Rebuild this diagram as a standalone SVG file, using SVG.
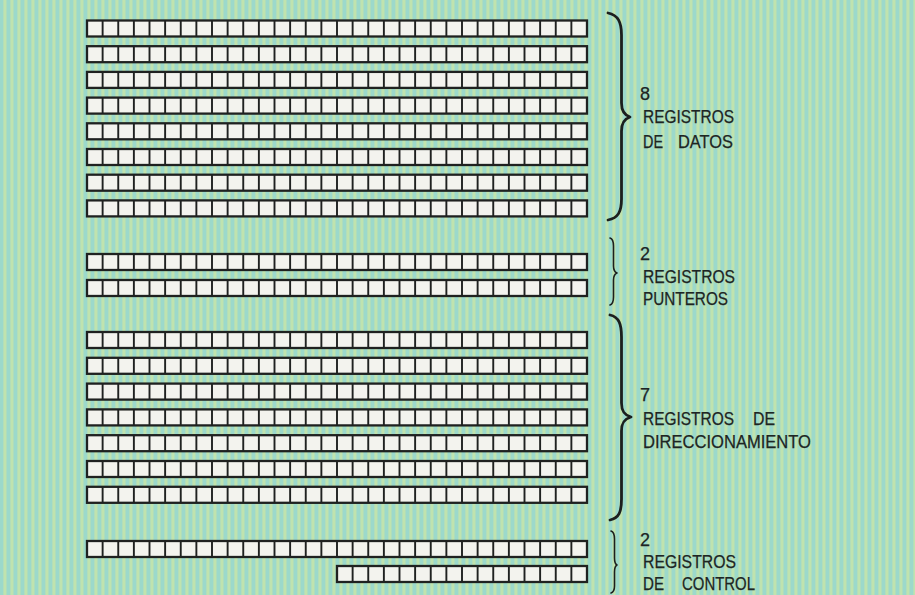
<svg xmlns="http://www.w3.org/2000/svg" width="915" height="595" viewBox="0 0 915 595">
<style>
.cell{fill:#f3f3ee;stroke:#1f2120;stroke-width:2.3}
.div{fill:none;stroke:#1f2120;stroke-width:1.9}
.brace{fill:none;stroke:#1c1f1e;stroke-linecap:round;stroke-linejoin:round}
.big{stroke-width:2.8}
.small{stroke-width:1.6}
.lbl{font-family:"Liberation Sans","DejaVu Sans",Arial,sans-serif;font-size:18px;fill:#1d2523;stroke:#1d2523;stroke-width:0.25}
</style>
<defs>
<pattern id="bg" patternUnits="userSpaceOnUse" width="7" height="10">
<rect width="7" height="10" fill="#aadcc0"/>
<rect x="0" width="3" height="10" fill="#9cd9cb"/>
<rect x="3.6" width="2.6" height="10" fill="#c0e3ae"/>
</pattern>
<g id="reg32">
<rect class="cell" x="0" y="0" width="500" height="16"/>
<path class="div" d="M15.625 0v16M31.25 0v16M46.875 0v16M62.5 0v16M78.125 0v16M93.75 0v16M109.375 0v16M125 0v16M140.625 0v16M156.25 0v16M171.875 0v16M187.5 0v16M203.125 0v16M218.75 0v16M234.375 0v16M250 0v16M265.625 0v16M281.25 0v16M296.875 0v16M312.5 0v16M328.125 0v16M343.75 0v16M359.375 0v16M375 0v16M390.625 0v16M406.25 0v16M421.875 0v16M437.5 0v16M453.125 0v16M468.75 0v16M484.375 0v16"/>
</g>
<g id="reg16">
<rect class="cell" x="0" y="0" width="250" height="16"/>
<path class="div" d="M15.625 0v16M31.25 0v16M46.875 0v16M62.5 0v16M78.125 0v16M93.75 0v16M109.375 0v16M125 0v16M140.625 0v16M156.25 0v16M171.875 0v16M187.5 0v16M203.125 0v16M218.75 0v16M234.375 0v16"/>
</g>
</defs>
<rect width="915" height="595" fill="url(#bg)"/>

<g id="data-registers">
<g id="D0"><use href="#reg32" x="87" y="20.5"/></g>
<g id="D1"><use href="#reg32" x="87" y="46.2"/></g>
<g id="D2"><use href="#reg32" x="87" y="71.9"/></g>
<g id="D3"><use href="#reg32" x="87" y="97.6"/></g>
<g id="D4"><use href="#reg32" x="87" y="123.3"/></g>
<g id="D5"><use href="#reg32" x="87" y="149"/></g>
<g id="D6"><use href="#reg32" x="87" y="174.7"/></g>
<g id="D7"><use href="#reg32" x="87" y="200.4"/></g>
</g>
<g id="pointer-registers">
<g id="P0"><use href="#reg32" x="87" y="254"/></g>
<g id="P1"><use href="#reg32" x="87" y="280"/></g>
</g>
<g id="address-registers">
<g id="A0"><use href="#reg32" x="87" y="332"/></g>
<g id="A1"><use href="#reg32" x="87" y="357.8"/></g>
<g id="A2"><use href="#reg32" x="87" y="383.6"/></g>
<g id="A3"><use href="#reg32" x="87" y="409.4"/></g>
<g id="A4"><use href="#reg32" x="87" y="435.2"/></g>
<g id="A5"><use href="#reg32" x="87" y="461"/></g>
<g id="A6"><use href="#reg32" x="87" y="486.8"/></g>
</g>
<g id="control-registers">
<g id="C0"><use href="#reg32" x="87" y="541"/></g>
<g id="C1"><use href="#reg16" x="337" y="566"/></g>
</g>

<g id="connectors">
<path class="brace big" d="M608 13C618 15 621.5 22 621.5 35L621.5 103C621.5 111 624 115 630 117C624 119 621.5 123 621.5 131L621.5 199C621.5 212 618 218 608 220"/>
<path class="brace small" d="M610 238C613 239 613.5 242 613.5 246L613.5 266C613.5 270 614.5 272 617 273C614.5 274 613.5 276 613.5 280L613.5 297C613.5 301 613 304 610 305"/>
<path class="brace big" d="M610 315C619 317 621.5 324 621.5 337L621.5 403C621.5 411 624 415 631 417C624 419 621.5 423 621.5 431L621.5 499C621.5 512 619 518 610 520"/>
<path class="brace small" d="M611 531C614 532 614.5 535 614.5 539L614.5 558C614.5 562 615 564 617 565C615 566 614.5 568 614.5 572L614.5 586C614.5 590 614 592 611 593"/>
</g>

<g id="label-data" class="lbl">
<text x="640" y="100">8</text>
<text x="643" y="123" textLength="91" lengthAdjust="spacingAndGlyphs">REGISTROS</text>
<text x="643" y="148" textLength="20" lengthAdjust="spacingAndGlyphs">DE</text>
<text x="678" y="148" textLength="55" lengthAdjust="spacingAndGlyphs">DATOS</text>
</g>
<g id="label-pointers" class="lbl">
<text x="640" y="260">2</text>
<text x="643" y="283" textLength="92" lengthAdjust="spacingAndGlyphs">REGISTROS</text>
<text x="643" y="305" textLength="85" lengthAdjust="spacingAndGlyphs">PUNTEROS</text>
</g>
<g id="label-address" class="lbl">
<text x="640" y="401">7</text>
<text x="643" y="425" textLength="91" lengthAdjust="spacingAndGlyphs">REGISTROS</text>
<text x="753" y="425" textLength="22" lengthAdjust="spacingAndGlyphs">DE</text>
<text x="643" y="448" textLength="168" lengthAdjust="spacingAndGlyphs">DIRECCIONAMIENTO</text>
</g>
<g id="label-control" class="lbl">
<text x="640" y="546">2</text>
<text x="643" y="568" textLength="93" lengthAdjust="spacingAndGlyphs">REGISTROS</text>
<text x="643" y="590" textLength="21" lengthAdjust="spacingAndGlyphs">DE</text>
<text x="682" y="590" textLength="73" lengthAdjust="spacingAndGlyphs">CONTROL</text>
</g>
</svg>
